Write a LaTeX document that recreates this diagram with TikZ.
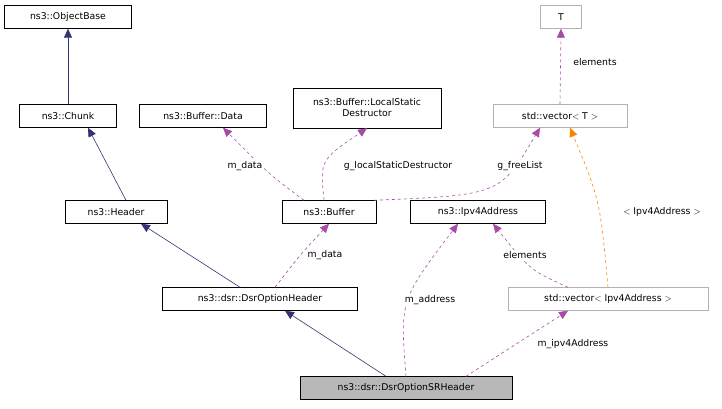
\documentclass[tikz,border=0pt]{standalone}
\usepackage{fontspec}
\setmainfont{DejaVu Sans}
\usetikzlibrary{arrows.meta}
\tikzset{
  cls/.style={draw, rectangle, inner sep=0pt, minimum height=23pt, font=\fontsize{9.3}{11}\selectfont, align=center},
  ghost/.style={cls, draw=black!30},
  inh/.style={draw=blue!30!black!80, -{Triangle[length=9pt,width=8pt,fill=blue!30!black!80]}, semithick},
  use/.style={draw=violet!70, dashed, -{Triangle[length=9pt,width=8pt,fill=violet!70]}, semithick},
  tmpl/.style={draw=orange, dashed, -{Triangle[length=9pt,width=8pt,fill=orange]}, semithick},
  lbl/.style={font=\fontsize{9.3}{11}\selectfont, fill=white, inner sep=1pt}
}
\begin{document}
\begin{tikzpicture}[x=1pt,y=-1pt]
        \useasboundingbox (0,0) rectangle (722,409);
        \node[cls, minimum width=127pt] (objbase) at (68,17) {ns3::ObjectBase};
        \node[cls, minimum width=97pt] (chunk) at (68,116) {ns3::Chunk};
        \node[cls, minimum width=102pt] (header) at (116,212) {ns3::Header};
        \node[cls, minimum width=127pt] (bufdata) at (203,116) {ns3::Buffer::Data};
        \node[cls, minimum width=148pt, minimum height=40pt] (lsd) at (367,108) {ns3::Buffer::LocalStatic\\Destructor};
        \node[ghost, minimum width=41pt] (T) at (561,17) {T};
        \node[ghost, minimum width=134pt] (vecT) at (560,116) {std::vector$<$ T $>$};
        \node[cls, minimum width=94pt] (buffer) at (329,212) {ns3::Buffer};
        \node[cls, minimum width=135pt] (ipv4) at (478,212) {ns3::Ipv4Address};
        \node[cls, minimum width=195pt] (doh) at (260,299) {ns3::dsr::DsrOptionHeader};
        \node[ghost, minimum width=200pt] (vecip) at (608,299) {std::vector$<$ Ipv4Address $>$};
        \node[cls, minimum width=212pt, fill=black!28] (sr) at (406,388) {ns3::dsr::DsrOptionSRHeader};

        % inheritance
        \draw[inh] (chunk.north) -- (objbase.south);
        \draw[inh] ([xshift=10pt]header.north) -- ([xshift=20pt]chunk.south);
        \draw[inh] ([xshift=-20pt]doh.north) -- ([xshift=25pt]header.south);
        \draw[inh] ([xshift=-20pt]sr.north) -- ([xshift=25pt]doh.south);

        % members
        \draw[use] ([xshift=-25pt]buffer.north) .. controls (270,175) .. ([xshift=20pt]bufdata.south);
        \node[lbl] at (245,166) {m\_data};
        \draw[use] ([xshift=-5pt]buffer.north) .. controls (320,160) .. (lsd.south);
        \node[lbl] at (398,166) {g\_localStaticDestructor};
        \draw[use] ([xshift=45pt]buffer.north) .. controls (500,195) .. ([xshift=-20pt]vecT.south);
        \node[lbl] at (520,166) {g\_freeList};
        \draw[use] (vecT.north) -- (T.south);
        \node[lbl] at (595,62) {elements};
        \draw[use] ([xshift=15pt]doh.north) .. controls (300,255) .. (buffer.south);
        \node[lbl] at (325,255) {m\_data};
        \draw[use] (sr.north) .. controls (400,300) .. ([xshift=-20pt]ipv4.south);
        \node[lbl] at (430,300) {m\_address};
        \draw[use] ([xshift=-40pt]vecip.north) .. controls (530,270) .. ([xshift=15pt]ipv4.south);
        \node[lbl] at (525,255) {elements};
        \draw[tmpl] (vecip.north) .. controls (600,200) .. ([xshift=10pt]vecT.south);
        \node[lbl] at (662,212) {$<$ Ipv4Address $>$};
        \draw[use] ([xshift=60pt]sr.north) -- ([xshift=-40pt]vecip.south);
        \node[lbl] at (573,344) {m\_ipv4Address};
\end{tikzpicture}
\end{document}
